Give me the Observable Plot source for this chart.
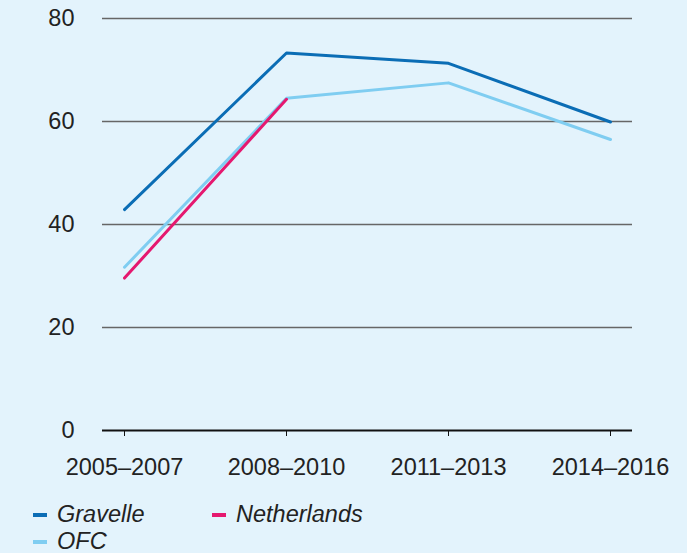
<!DOCTYPE html>
<html>
<head>
<meta charset="utf-8">
<script src="https://cdn.jsdelivr.net/npm/d3@7"></script>
<script src="https://cdn.jsdelivr.net/npm/@observablehq/plot@0.6"></script>
<style>
  html, body { margin: 0; padding: 0; background: #e3f3fc; }
  #wrap { position: relative; width: 687px; height: 553px; background: #e3f3fc; overflow: hidden;
          font-family: "Liberation Sans", Arial, Helvetica, sans-serif; color: #222; }
  .leg { position: absolute; font-size: 23.5px; font-style: italic; line-height: 1; display: flex; align-items: center; }
  .leg span.sw { display: inline-block; width: 14px; height: 3.5px; margin-right: 10px; }
</style>
</head>
<body>
<div id="wrap"></div>
<script>
const periods = ["2005–2007", "2008–2010", "2011–2013", "2014–2016"];
const gravelle = [42.9, 73.3, 71.3, 59.9];
const ofc = [31.7, 64.5, 67.5, 56.5];
const netherlands = [29.6, 64.3];
const seriesNames = ["Gravelle", "OFC", "Netherlands"];
const seriesColors = ["#0b6db5", "#7fcdf1", "#e5186f"];
const yTicks = [0, 20, 40, 60, 80];

const rows = [];
[gravelle, ofc, netherlands].forEach((vals, i) => {
  vals.forEach((v, j) => rows.push({series: seriesNames[i], period: periods[j], value: v}));
});

const chart = Plot.plot({
  width: 687,
  height: 490,
  marginTop: 18,
  marginBottom: 60,
  marginLeft: 102,
  marginRight: 55,
  style: {background: "transparent", fontFamily: "'Liberation Sans', Arial, Helvetica, sans-serif", fontSize: "23.5px", color: "#222"},
  x: {type: "point", domain: periods, padding: 0.126, label: null},
  y: {domain: [0, 80], label: null},
  color: {domain: seriesNames, range: seriesColors},
  marks: [
    Plot.ruleY(yTicks.filter(d => d > 0), {stroke: "#666", strokeWidth: 1.5}),
    Plot.ruleY([0], {stroke: "#111", strokeWidth: 2}),
    Plot.axisY({ticks: yTicks, tickSize: 0, tickPadding: 28, label: null, fontSize: 23.5}),
    Plot.axisX({tickSize: 6, tickPadding: 22, label: null, fontSize: 23.5, stroke: "#111"}),
    Plot.line(rows, {x: "period", y: "value", z: "series", stroke: "series", strokeWidth: 3})
  ]
});
const wrap = document.getElementById("wrap");
chart.style.display = "block";
wrap.appendChild(chart);

const legPos = [[33, 503], [33, 530], [212, 503]];
seriesNames.forEach((name, i) => {
  const d = document.createElement("div");
  d.className = "leg";
  d.style.left = legPos[i][0] + "px";
  d.style.top = legPos[i][1] + "px";
  d.innerHTML = `<span class="sw" style="background:${seriesColors[i]}"></span>${name}`;
  wrap.appendChild(d);
});
</script>
</body>
</html>
